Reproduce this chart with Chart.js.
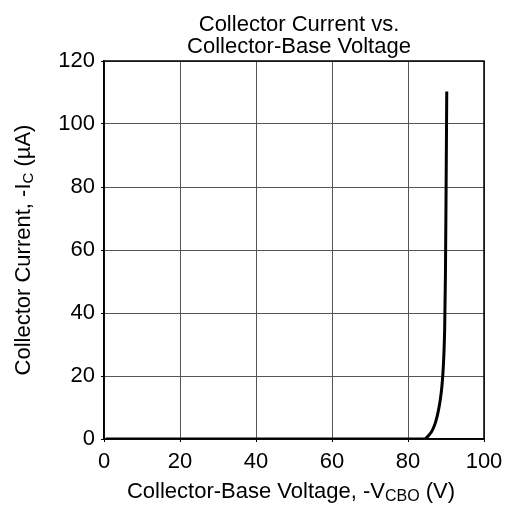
<!DOCTYPE html>
<html lang="en">
<head>
  <meta charset="utf-8"/>
  <title>Collector Current vs. Collector-Base Voltage</title>
  <script src="https://cdn.jsdelivr.net/npm/chart.js"></script>
  <style>
    body { margin: 0; background: #fff; }
    #wrap { width: 506px; height: 507px; }
  </style>
</head>
<body>
  <div id="wrap"><canvas id="chart"></canvas></div>
<script>
  // values
  const voltage = [0.5, 84.3, 85.5, 86.5, 87.3, 88.0, 88.5, 88.9, 89.2, 89.45, 89.65, 89.85, 90.0, 90.2];
  const current = [0, 0, 1.2, 3.0, 5.5, 9.0, 12.5, 16.5, 21, 27, 35, 52, 75, 110.3];
  const xTicks = [0, 20, 40, 60, 80, 100];
  const yTicks = [0, 20, 40, 60, 80, 100, 120];

  const FONT = "'Liberation Sans', Arial, sans-serif";

  // title + axis titles (with subscripts)
  const labelsPlugin = {
    id: 'labels',
    afterDraw(chart) {
      const c = chart.ctx;
      const a = chart.chartArea;
      c.save();
      c.fillStyle = '#000';
      c.textBaseline = 'alphabetic';
      c.textAlign = 'center';
      c.font = '22px ' + FONT;
      c.fillText('Collector Current vs.', 299, 31);
      c.fillText('Collector-Base Voltage', 299, 53);

      function subText(parts, x, y) {
        let w = 0;
        parts.forEach(p => { c.font = p[1] + 'px ' + FONT; w += c.measureText(p[0]).width; });
        let cx = x - w / 2;
        c.textAlign = 'left';
        parts.forEach(p => {
          c.font = p[1] + 'px ' + FONT;
          c.fillText(p[0], cx, y + (p[2] || 0));
          cx += c.measureText(p[0]).width;
        });
      }

      subText([['Collector-Base Voltage, -V', 22], ['CBO', 16, 3], [' (V)', 22]], 291, 498);

      c.translate(30, (a.top + a.bottom) / 2);
      c.rotate(-Math.PI / 2);
      subText([['Collector Current, -I', 22], ['C', 15, 3], [' (\u00b5A)', 22]], 0, 0);
      c.restore();
    }
  };

  new Chart(document.getElementById('chart'), {
    type: 'scatter',
    data: {
      datasets: [{
        data: voltage.map((v, i) => ({ x: v, y: current[i] })),
        showLine: true,
        borderColor: '#000',
        borderWidth: 3,
        pointRadius: 0,
        cubicInterpolationMode: 'monotone',
        fill: false
      }]
    },
    options: {
      responsive: true,
      maintainAspectRatio: false,
      animation: false,
      layout: { padding: { top: 61, right: 22, left: 0, bottom: 0 } },
      plugins: { legend: { display: false }, tooltip: { enabled: false } },
      scales: {
        x: {
          type: 'linear', min: 0, max: 100,
          afterFit(s) { s.height = 68; s.paddingRight = 0; s.paddingLeft = 0; },
          afterBuildTicks(s) { s.ticks = xTicks.map(v => ({ value: v })); },
          grid: { color: '#555', lineWidth: 1, tickLength: 3, tickColor: '#000' },
          border: { color: '#000', width: 1.5 },
          ticks: { color: '#000', font: { family: FONT, size: 22 }, padding: 7, maxRotation: 0 }
        },
        y: {
          type: 'linear', min: 0, max: 120,
          afterFit(s) { s.width = 104; s.paddingTop = 0; s.paddingBottom = 0; },
          afterBuildTicks(s) { s.ticks = yTicks.map(v => ({ value: v })); },
          grid: { color: '#555', lineWidth: 1, tickLength: 3, tickColor: '#000' },
          border: { color: '#000', width: 1.5 },
          ticks: { color: '#000', font: { family: FONT, size: 22 }, padding: 6 }
        }
      }
    },
    plugins: [labelsPlugin, {
      id: 'frame',
      afterDatasetsDraw(chart) {
        const c = chart.ctx, a = chart.chartArea;
        c.save();
        c.strokeStyle = '#000';
        c.lineWidth = 1.5;
        c.strokeRect(a.left, a.top, a.right - a.left, a.bottom - a.top);
        c.restore();
      }
    }]
  });
</script>
</body>
</html>
